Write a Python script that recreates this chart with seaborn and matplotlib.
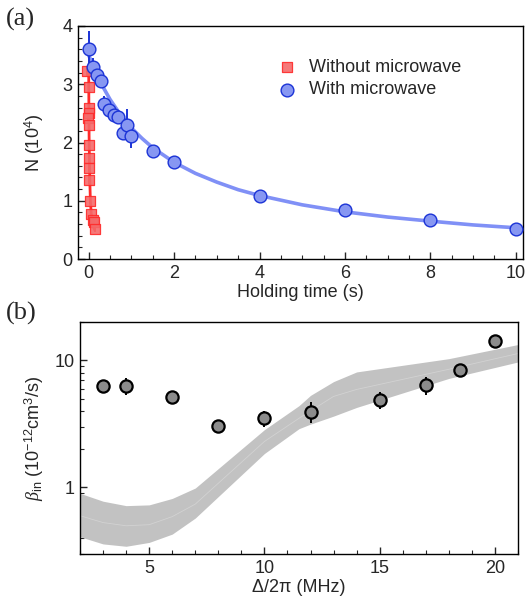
import numpy as np
import pandas as pd
import matplotlib
matplotlib.use("Agg")
import matplotlib.pyplot as plt
from matplotlib.ticker import MultipleLocator, LogLocator, NullFormatter, FixedLocator, FixedFormatter
import seaborn as sns

# ---------------- data: panel (a) ----------------
t_without = [-0.03, 0.0, 0.0, 0.0, -0.01, 0.0, 0.0, 0.01, 0.01, 0.01, 0.03, 0.06, 0.10, 0.13, 0.15]
n_without = [3.23, 2.95, 2.60, 2.51, 2.42, 2.30, 1.96, 1.74, 1.57, 1.36, 1.00, 0.78, 0.67, 0.64, 0.51]
e_without = [0.08, 0.08, 0.1, 0.1, 0.1, 0.08, 0.08, 0.08, 0.08, 0.08, 0.06, 0.06, 0.05, 0.05, 0.05]

t_with = [0.0, 0.09, 0.19, 0.29, 0.37, 0.48, 0.59, 0.69, 0.80, 0.90, 0.99, 1.5, 2.0, 4.0, 6.0, 8.0, 10.0]
n_with = [3.61, 3.30, 3.16, 3.06, 2.66, 2.56, 2.47, 2.43, 2.16, 2.30, 2.11, 1.85, 1.67, 1.09, 0.84, 0.67, 0.52]
e_with = [0.30, 0.15, 0.08, 0.08, 0.14, 0.12, 0.07, 0.07, 0.12, 0.28, 0.20, 0.08, 0.09, 0.07, 0.05, 0.06, 0.05]

fit_with_t = [0.0, 0.1, 0.2, 0.3, 0.5, 0.75, 1.0, 1.25, 1.5, 2.0, 2.5, 3.0, 3.5, 4.0, 5.0, 6.0, 7.0, 8.0, 9.0, 10.0]
fit_with_n = [3.50, 3.32, 3.15, 3.00, 2.74, 2.47, 2.25, 2.07, 1.91, 1.66, 1.47, 1.32, 1.19, 1.09, 0.93, 0.81, 0.72, 0.65, 0.585, 0.536]

fit_without_t = [0.0, 0.005, 0.01, 0.02, 0.03, 0.04, 0.06, 0.08, 0.11, 0.14]
fit_without_n = [3.30, 2.60, 2.10, 1.60, 1.25, 1.00, 0.78, 0.65, 0.55, 0.50]

# ---------------- data: panel (b) ----------------
delta = [3, 4, 6, 8, 10, 12, 15, 17, 18.5, 20]
beta = [6.3, 6.3, 5.1, 3.05, 3.5, 3.95, 4.9, 6.35, 8.4, 14.3]
beta_err = [0.3, 1.0, 0.3, 0.2, 0.5, 0.75, 0.75, 1.0, 0.4, 0.6]

band_x = [2, 3, 4, 5, 6, 7, 10, 11.5, 12, 13, 14, 18, 21]
band_hi = [0.90, 0.78, 0.72, 0.73, 0.82, 0.99, 2.85, 4.4, 5.3, 6.8, 8.1, 10.3, 13.3]
band_lo = [0.41, 0.36, 0.345, 0.37, 0.43, 0.575, 1.85, 2.9, 3.15, 3.64, 4.26, 7.2, 9.7]
band_mid = [0.60, 0.53, 0.50, 0.51, 0.59, 0.74, 2.3, 3.5, 4.0, 5.2, 5.9, 8.5, 11.3]

# ---------------- style ----------------
sns.set_style("ticks")
plt.rcParams['font.family'] = ['Liberation Sans', 'DejaVu Sans']
plt.rcParams['mathtext.fontset'] = 'custom'
plt.rcParams['mathtext.rm'] = 'Liberation Sans'
plt.rcParams['mathtext.it'] = 'Liberation Serif:italic'
plt.rcParams['mathtext.bf'] = 'Liberation Sans:bold'
plt.rcParams['axes.linewidth'] = 1.0
plt.rcParams['axes.edgecolor'] = 'black'

FS = 13

fig = plt.figure(figsize=(5.28, 6.01), dpi=100)
ax1 = fig.add_axes([78/528, 1-259/601, 445/528, 233/601])
ax2 = fig.add_axes([80/528, 1-554/601, 438/528, 232/601])

blue_fill = '#8797f2'
blue_edge = '#1b33d6'
blue_line = '#8090f6'
red_fill = '#f46a6a'
red_edge = '#ff2a2a'

# ---- panel (a)
df_with = pd.DataFrame({'t': t_with, 'N': n_with})
df_without = pd.DataFrame({'t': t_without, 'N': n_without})
sns.lineplot(x=fit_with_t, y=fit_with_n, ax=ax1, color=blue_line, lw=2.6, zorder=1, sort=False)
sns.lineplot(x=fit_without_t, y=fit_without_n, ax=ax1, color=red_edge, lw=2.0, zorder=1, sort=False)
ax1.errorbar(t_without, n_without, yerr=e_without, fmt='none', ecolor=red_edge, elinewidth=1.4, zorder=2)
ax1.errorbar(t_with, n_with, yerr=e_with, fmt='none', ecolor=blue_edge, elinewidth=1.4, zorder=2)
sns.scatterplot(data=df_without, x='t', y='N', ax=ax1, marker='s', s=62, color=red_fill,
                edgecolor=red_edge, linewidth=0.9, alpha=0.9, zorder=3, label='Without microwave')
sns.scatterplot(data=df_with, x='t', y='N', ax=ax1, marker='o', s=84, color=blue_fill,
                edgecolor=blue_edge, linewidth=1.0, zorder=4, label='With microwave')

ax1.set_xlim(-0.25, 10.17)
ax1.set_ylim(0, 4)
ax1.xaxis.set_major_locator(MultipleLocator(2))
ax1.xaxis.set_minor_locator(MultipleLocator(0.5))
ax1.yaxis.set_major_locator(MultipleLocator(1))
ax1.yaxis.set_minor_locator(MultipleLocator(0.2))
ax1.set_xlabel('Holding time (s)', fontsize=FS, labelpad=2)
ax1.set_ylabel('N (10$^{4}$)', fontsize=FS, labelpad=12)
leg = ax1.legend(loc='upper left', bbox_to_anchor=(0.434, 0.89), frameon=False, fontsize=FS,
                 handlelength=1.0, handletextpad=0.7, labelspacing=0.3, borderaxespad=0)

# ---- panel (b)
sns.lineplot(x=band_x, y=band_mid, ax=ax2, color='#d2d2d2', lw=0.6, zorder=2, sort=False)
ax2.fill_between(band_x, band_lo, band_hi, color='#c2c2c2', lw=0, zorder=1)
ax2.errorbar(delta, beta, yerr=beta_err, fmt='none', ecolor='black', elinewidth=1.4, zorder=3)
sns.scatterplot(x=delta, y=beta, ax=ax2, marker='o', s=78, color='#8c8c8c',
                edgecolor='black', linewidth=1.6, zorder=4)
ax2.set_yscale('log')
ax2.set_xlim(2, 21)
ax2.set_ylim(0.3, 20)
ax2.xaxis.set_major_locator(MultipleLocator(5))
ax2.xaxis.set_minor_locator(MultipleLocator(1))
ax2.yaxis.set_major_locator(FixedLocator([1, 10]))
ax2.yaxis.set_major_formatter(FixedFormatter(['1', '10']))
ax2.yaxis.set_minor_locator(LogLocator(base=10, subs=np.arange(2, 10)))
ax2.yaxis.set_minor_formatter(NullFormatter())
ax2.set_xlabel('Δ/2π (MHz)', fontsize=FS, labelpad=2)
ax2.set_ylabel(r'$\it{\beta}_{\mathrm{in}}$ (10$^{-12}$cm$^{3}$/s)', fontsize=FS, labelpad=6)

for ax in (ax1, ax2):
    for s in ax.spines.values():
        s.set_visible(True)
        s.set_linewidth(1.0)
    ax.tick_params(which='both', direction='in', top=False, right=False, labelsize=FS)
    ax.tick_params(which='major', length=5, width=1.0, pad=4)
    ax.tick_params(which='minor', length=3, width=0.8)

fig.text(6/528, 1-19/601, '(a)', fontsize=19, family='Liberation Serif', va='center', ha='left')
fig.text(6/528, 1-313/601, '(b)', fontsize=19, family='Liberation Serif', va='center', ha='left')

fig.savefig('out.png', dpi=100)
